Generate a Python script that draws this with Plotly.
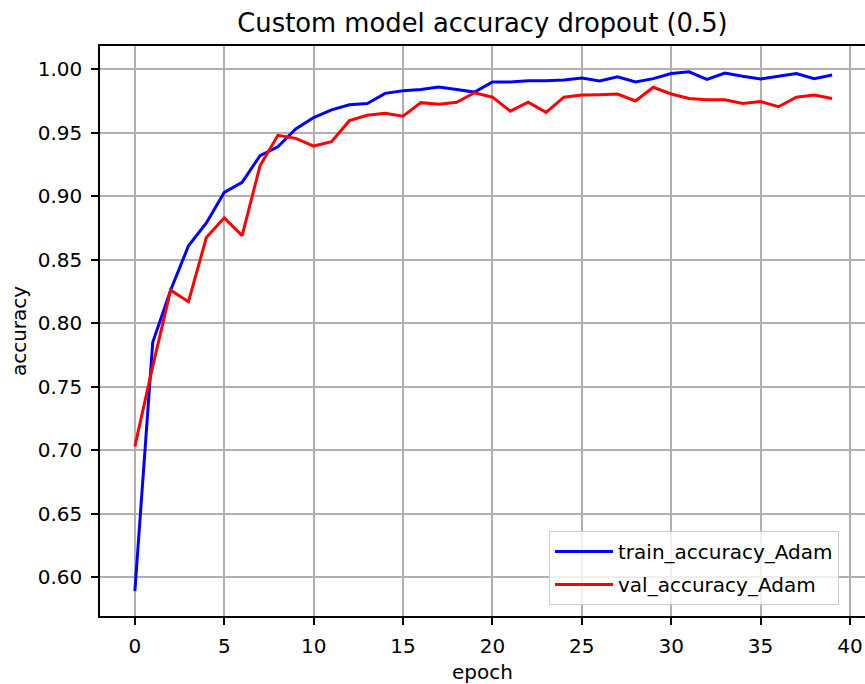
import plotly.graph_objects as go

epochs = list(range(40))
train_accuracy_adam = [
    0.589, 0.785, 0.826, 0.861, 0.879, 0.903, 0.911, 0.932, 0.939, 0.953,
    0.962, 0.968, 0.972, 0.973, 0.981, 0.983, 0.984, 0.986, 0.984, 0.982,
    0.990, 0.990, 0.991, 0.991, 0.9916, 0.993, 0.9908, 0.994, 0.990, 0.9926,
    0.9966, 0.998, 0.992, 0.997, 0.9945, 0.9924, 0.9945, 0.9966, 0.9926, 0.9955,
]
val_accuracy_adam = [
    0.703, 0.766, 0.826, 0.817, 0.8675, 0.883, 0.869, 0.924, 0.948, 0.9456,
    0.9395, 0.943, 0.9595, 0.9637, 0.9653, 0.963, 0.9737, 0.9724, 0.974, 0.9815,
    0.978, 0.967, 0.974, 0.966, 0.978, 0.9797, 0.980, 0.9805, 0.975, 0.9858,
    0.9805, 0.977, 0.976, 0.976, 0.973, 0.9745, 0.9705, 0.978, 0.9797, 0.977,
]
x_tick_vals = [0, 5, 10, 15, 20, 25, 30, 35, 40]
y_tick_vals = [0.60, 0.65, 0.70, 0.75, 0.80, 0.85, 0.90, 0.95, 1.00]

FONT = "DejaVu Sans"

fig = go.Figure()
fig.add_trace(go.Scatter(x=epochs, y=train_accuracy_adam, mode="lines",
                         name="train_accuracy_Adam", legendgroup="a",
                         line=dict(color="#0000ff", width=3)))
fig.add_trace(go.Scatter(x=epochs, y=val_accuracy_adam, mode="lines",
                         name="val_accuracy_Adam", legendgroup="b",
                         line=dict(color="#ff0000", width=3)))

axis_common = dict(
    showline=True, linecolor="black", linewidth=1.6, mirror=True,
    showgrid=True, gridcolor="#b0b0b0", gridwidth=1.6,
    ticks="outside", ticklen=7, tickwidth=1.6, tickcolor="black",
    zeroline=False, automargin=False,
    tickfont=dict(family=FONT, size=20, color="black"),
)

fig.update_layout(
    width=865, height=684,
    margin=dict(l=100, r=0, t=46, b=68),
    paper_bgcolor="white", plot_bgcolor="white",
    font=dict(family=FONT, size=20, color="black"),
    title=dict(text="Custom model accuracy dropout (0.5)", x=0.5, xref="paper",
               xanchor="center", y=1 - 23 / 684, yref="container", yanchor="middle",
               font=dict(family=FONT, size=25.8, color="black")),
    xaxis=dict(range=[-1.95, 40.84], tickvals=x_tick_vals,
               title=dict(text="epoch", standoff=8, font=dict(family=FONT, size=20)),
               ticklabelstandoff=4, ticklabeloverflow="allow",
               **axis_common),
    yaxis=dict(range=[0.5695, 1.0183], tickvals=y_tick_vals, tickformat=".2f",
               title=dict(text="accuracy", standoff=6, font=dict(family=FONT, size=20)),
               ticklabelstandoff=5,
               **axis_common),
    legend=dict(x=(549 - 100) / 765, xanchor="left", y=0.0193, yanchor="bottom",
                bgcolor="rgba(255,255,255,0.8)", bordercolor="#cccccc", borderwidth=1,
                font=dict(family=FONT, size=20, color="black"),
                tracegroupgap=4, traceorder="grouped", itemwidth=58),
    showlegend=True,
)

fig.write_html(
    "out.html",
    config={"displayModeBar": False},
    post_script="document.body.style.margin='0';document.body.style.overflow='hidden';",
)
